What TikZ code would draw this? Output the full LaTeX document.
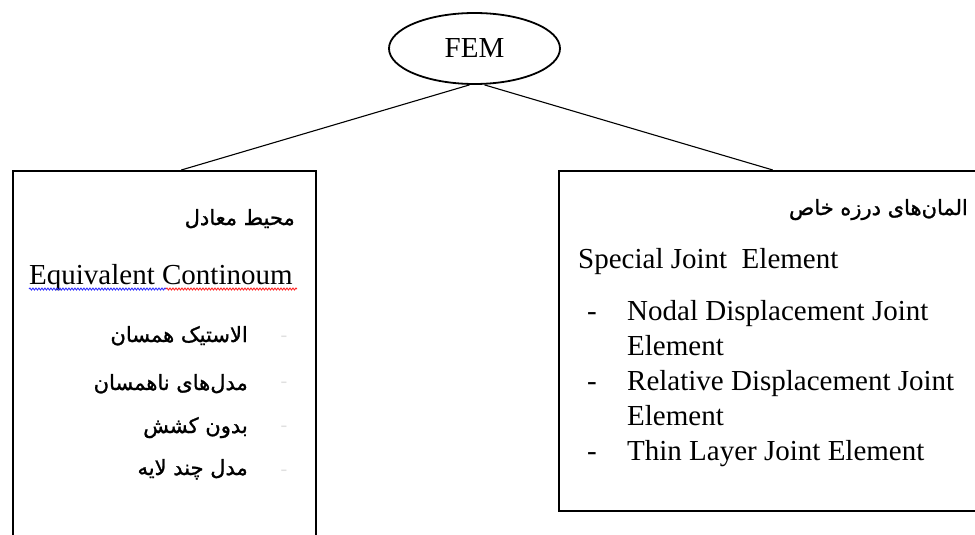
\documentclass[tikz,border=0pt]{standalone}
\usepackage{fontspec}
\setmainfont{Liberation Serif}
\newfontfamily\fa[Script=Arabic, FakeBold=1.2]{DejaVu Sans}
\TeXXeTstate=1
\usetikzlibrary{shapes.geometric,decorations.pathmorphing}
\begin{document}
\begin{tikzpicture}[x=1pt,y=-1pt,
  en/.style={font=\fontsize{29}{34}\selectfont, inner sep=0pt},
  fatext/.style={font=\fa\fontsize{21}{26}\selectfont, inner sep=0pt, anchor=base east},
  box/.style={draw, line width=1.6pt, inner sep=0pt, anchor=north west},
  conn/.style={line width=1.1pt},
  fadedash/.style={inner sep=0pt, text=black!12, font=\fontsize{20}{24}\selectfont, anchor=base}]
\clip (0,0) rectangle (975,535);
\useasboundingbox (0,0) rectangle (975,535);
% root
\node[ellipse, draw, line width=1.8pt, minimum width=171pt, minimum height=71pt, inner sep=0pt,
  font=\fontsize{29}{34}\selectfont] (fem) at (474.5,48.5) {FEM};
% boxes
\node[box, minimum width=303pt, minimum height=420pt] (lbox) at (12,170) {};
\node[box, minimum width=440pt, minimum height=340pt] (rbox) at (558,170) {};
% connectors
\draw[conn] ([xshift=-5pt]fem.south) -- ([xshift=17pt]lbox.north);
\draw[conn] ([xshift=10pt]fem.south) -- ([xshift=-6pt]rbox.north);
% left box texts
\node[fatext] (lhead) at (295,225) {\beginR محیط معادل\endR};
\node[en, anchor=base west] (eqc) at (29,284) {Equivalent Continoum};
\draw[blue!80, line width=0.9pt, decorate, decoration={snake, segment length=3pt, amplitude=1pt}] (29,289) -- (166,289);
\draw[red!85, line width=0.9pt, decorate, decoration={snake, segment length=3pt, amplitude=1pt}] (166,289) -- (297,289);
\node[fatext] (l1) at (248,342) {\beginR الاستیک همسان\endR};
\node[fatext] (l2) at (248,390) {\beginR مدل‌های ناهمسان\endR};
\node[fatext] (l3) at (248,433) {\beginR بدون کشش\endR};
\node[fatext] (l4) at (248,475) {\beginR مدل چند لایه\endR};
\node[fadedash] (d1) at (284,341) {-};
\node[fadedash] (d2) at (284,387) {-};
\node[fadedash] (d3) at (284,431) {-};
\node[fadedash] (d4) at (284,475) {-};
% right box texts
\node[fatext] (rhead) at (968,215) {\beginR المان‌های  درزه خاص\endR};
\node[en, anchor=base west] (sje) at (578,268) {Special Joint\ \ Element};
\node[en, anchor=base] (b1) at (592,320) {-};
\node[en, anchor=base west] (r1) at (627,320) {Nodal Displacement Joint};
\node[en, anchor=base west] (r1b) at (627,355) {Element};
\node[en, anchor=base] (b2) at (592,390) {-};
\node[en, anchor=base west] (r2) at (627,390) {Relative Displacement Joint};
\node[en, anchor=base west] (r2b) at (627,425) {Element};
\node[en, anchor=base] (b3) at (592,460) {-};
\node[en, anchor=base west] (r3) at (627,460) {Thin Layer Joint Element};
\end{tikzpicture}
\end{document}
